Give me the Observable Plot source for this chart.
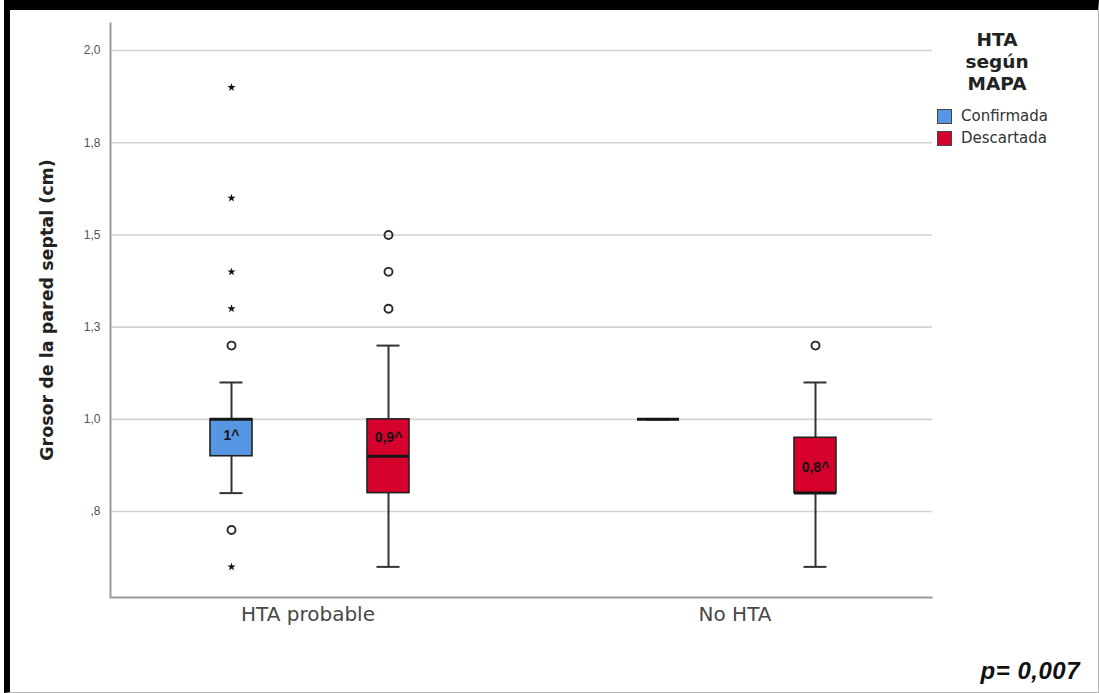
<!DOCTYPE html>
<html><head><meta charset="utf-8">
<script src="https://cdn.jsdelivr.net/npm/d3@7"></script>
<script src="https://cdn.jsdelivr.net/npm/@observablehq/plot@0.6"></script>
<style>
  html, body { margin:0; padding:0; background:#fff; }
  #page { position:relative; width:1099px; height:693px; overflow:hidden; background:#fff; }
  #border { position:absolute; left:4px; top:0; width:1095px; height:693px; box-sizing:border-box;
    border-top:10px solid #000; border-left:6px solid #000; border-right:1px solid #b5b5b5; border-bottom:1px solid #b5b5b5; pointer-events:none; }
  #chart { position:absolute; left:0; top:0; }
  #ylabel { position:absolute; left:47px; top:310px; transform:translate(-50%,-50%) rotate(-90deg);
    white-space:nowrap; font-family:"DejaVu Sans", sans-serif; font-weight:bold; font-size:17.5px; color:#222; }
  #legend { position:absolute; left:937px; top:29px; width:125px; font-family:"DejaVu Sans", sans-serif; }
  #legend .title { text-align:center; width:120px; font-weight:bold; font-size:18.5px; line-height:22px; color:#222; }
  #legend .item { display:flex; align-items:center; height:22px; font-size:15px; color:#333; }
  #legend .sw { width:15px; height:15px; border:1px solid #444; margin-right:9px; box-sizing:border-box; }
  #pval { position:absolute; right:19px; top:657px; font-family:"Liberation Sans", Arial, sans-serif; font-weight:bold; font-style:italic; font-size:24px; letter-spacing:0.5px; color:#111; }
</style>
</head><body>
<div id="page">
  <div id="chart"></div>
  <div id="ylabel"></div>
  <div id="legend"></div>
  <div id="pval"></div>
  <div id="border"></div>
</div>
<script>
// ---------- data ----------
const groups = ["HTA probable", "No HTA"];
const series = ["Confirmada", "Descartada"];
const seriesColors = ["#5796e2", "#d5002c"];
const yTicks = [0.75, 1.0, 1.25, 1.5, 1.75, 2.0];
const yTickLabels = [",8", "1,0", "1,3", "1,5", "1,8", "2,0"];
const yDomain = [0.517, 2.076];

const boxGroup  = ["HTA probable", "HTA probable", "No HTA", "No HTA"];
const boxSerie  = ["Confirmada", "Descartada", "Confirmada", "Descartada"];
const boxLow    = [0.80, 0.60, 1.00, 0.60];
const boxQ1     = [0.90, 0.80, 1.00, 0.80];
const boxMedian = [1.00, 0.90, 1.00, 0.80];
const boxQ3     = [1.00, 1.00, 1.00, 0.95];
const boxHigh   = [1.10, 1.20, 1.00, 1.10];
const boxLabel  = ["1^", "0,9^", "", "0,8^"];
const boxLabelY = [0.955, 0.95, null, 0.87];

const outGroup = ["HTA probable","HTA probable","HTA probable","HTA probable","HTA probable","HTA probable","HTA probable",
                  "HTA probable","HTA probable","HTA probable","No HTA"];
const outSerie = ["Confirmada","Confirmada","Confirmada","Confirmada","Confirmada","Confirmada","Confirmada",
                  "Descartada","Descartada","Descartada","Descartada"];
const outValue = [1.90, 1.60, 1.40, 1.30, 1.20, 0.70, 0.60, 1.50, 1.40, 1.30, 1.20];
const outKind  = ["star","star","star","star","circle","circle","star","circle","circle","circle","circle"];

const yLabel = "Grosor de la pared septal (cm)";
const legendTitle = ["HTA", "según", "MAPA"];
const pText = "p= 0,007";

// ---------- tables ----------
const boxes = boxGroup.map((g, i) => ({group: g, serie: boxSerie[i], lo: boxLow[i], q1: boxQ1[i], med: boxMedian[i],
  q3: boxQ3[i], hi: boxHigh[i], label: boxLabel[i], labelY: boxLabelY[i]}));
const outliers = outGroup.map((g, i) => ({group: g, serie: outSerie[i], value: outValue[i], kind: outKind[i]}));

const W = 1099, H = 693, mL = 110, mR = 167, mT = 22, mB = 96;
const fw = W - mL - mR, fh = H - mT - mB;
const fxPad = 0.075;
const facetGap = fw * fxPad / (groups.length - fxPad);   // width of the gap between the two facet bands
const ink = "#222";

const chart = Plot.plot({
  width: W, height: H,
  marginLeft: mL, marginRight: mR, marginTop: mT, marginBottom: mB,
  style: {fontFamily: "'Liberation Sans', Arial, sans-serif", fontSize: "12px", color: "#555", background: "#fff"},
  fx: {domain: groups, paddingInner: fxPad, paddingOuter: 0, axis: null, label: null},
  x: {domain: series, paddingInner: 0.7325, paddingOuter: 0.624, align: 0.51, axis: null, label: null},
  y: {domain: yDomain, ticks: yTicks, tickFormat: d => yTickLabels[yTicks.indexOf(d)], tickSize: 0, tickPadding: 10, label: null},
  color: {domain: series, range: seriesColors},
  marks: [
    Plot.ruleY(yTicks, {fx: () => groups[0], stroke: "#d2d2d2", strokeWidth: 1.6, insetRight: -facetGap}),
    Plot.ruleY(yTicks, {fx: () => groups[1], stroke: "#d2d2d2", strokeWidth: 1.6}),
    Plot.frame({facet: "super", stroke: "#9a9a9a", strokeWidth: 2, fill: "none", strokeDasharray: `0,${fw + fh},${fw + fh}`}),
    Plot.text(groups, {fx: d => d, text: d => d, frameAnchor: "bottom", dy: 23, fontSize: 20, fill: "#484848",
      fontFamily: "'DejaVu Sans', sans-serif"}),
    Plot.ruleX(boxes, {fx: "group", x: "serie", y1: "lo", y2: "q1", stroke: "#333", strokeWidth: 2}),
    Plot.ruleX(boxes, {fx: "group", x: "serie", y1: "q3", y2: "hi", stroke: "#333", strokeWidth: 2}),
    Plot.tickY(boxes, {fx: "group", x: "serie", y: "hi", stroke: "#333", strokeWidth: 2, insetLeft: 9.5, insetRight: 9.5}),
    Plot.tickY(boxes, {fx: "group", x: "serie", y: "lo", stroke: "#333", strokeWidth: 2, insetLeft: 9.5, insetRight: 9.5}),
    Plot.barY(boxes, {fx: "group", x: "serie", y1: "q1", y2: "q3", fill: "serie", stroke: ink, strokeWidth: 1.6}),
    Plot.tickY(boxes, {fx: "group", x: "serie", y: "med", stroke: "#161616", strokeWidth: 3}),
    Plot.text(boxes.filter(d => d.label), {fx: "group", x: "serie", y: "labelY", text: "label", fontSize: 14,
      fontWeight: "bold", fill: "#141414"}),
    Plot.dot(outliers.filter(d => d.kind === "star"), {fx: "group", x: "serie", y: "value", symbol: "star", r: 2.6, fill: "#111", stroke: "none"}),
    Plot.dot(outliers.filter(d => d.kind === "circle"), {fx: "group", x: "serie", y: "value", symbol: "circle", r: 4, fill: "none", stroke: "#2a2a2a", strokeWidth: 1.9})
  ]
});
document.getElementById("chart").appendChild(chart);

document.getElementById("ylabel").textContent = yLabel;
document.getElementById("pval").textContent = pText;

const lg = document.getElementById("legend");
const t = document.createElement("div");
t.className = "title";
t.innerHTML = legendTitle.join("<br>");
lg.appendChild(t);
const spacer = document.createElement("div");
spacer.style.height = "10px";
lg.appendChild(spacer);
series.forEach((s, i) => {
  const it = document.createElement("div");
  it.className = "item";
  const sw = document.createElement("div");
  sw.className = "sw";
  sw.style.background = seriesColors[i];
  const tx = document.createElement("span");
  tx.textContent = s;
  it.appendChild(sw); it.appendChild(tx);
  lg.appendChild(it);
});
</script>
</body></html>
